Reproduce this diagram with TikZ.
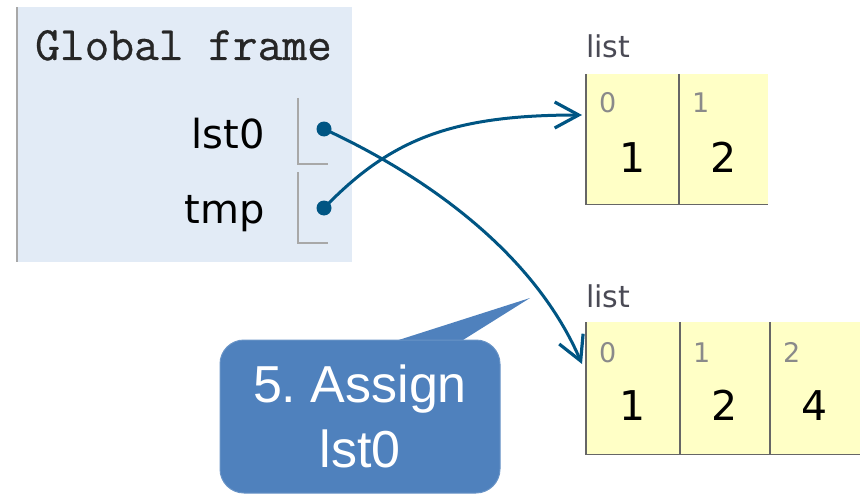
\documentclass[tikz,border=0pt]{standalone}
\usepackage{fontspec}
\setmainfont{Liberation Sans}
\newfontfamily\vfnt{DejaVu Sans}
\newfontfamily\framefnt[FakeBold=0.6]{Latin Modern Mono}
\usetikzlibrary{arrows.meta}
\frenchspacing
\definecolor{framebg}{HTML}{E2EBF6}
\definecolor{framebar}{HTML}{A8A8A8}
\definecolor{cellbg}{HTML}{FFFFC6}
\definecolor{cellline}{HTML}{666666}
\definecolor{ptrcol}{HTML}{005583}
\definecolor{notecol}{HTML}{4F81BD}
\definecolor{idxcol}{HTML}{8A8A8A}
\definecolor{lblcol}{HTML}{4A4A55}
\tikzset{
  cell/.style={rectangle, fill=cellbg, inner sep=0pt, anchor=north west},
  cellborder/.style={draw=cellline, line width=1.8pt},
  idx/.style={anchor=base west, inner sep=0pt, text=idxcol, font=\vfnt\fontsize{27}{27}\selectfont},
  val/.style={anchor=base, inner sep=0pt, text=black, font=\vfnt\fontsize{41}{41}\selectfont},
  lbl/.style={anchor=base west, inner sep=0pt, text=lblcol, font=\vfnt\fontsize{30}{30}\selectfont},
  varname/.style={anchor=base east, inner sep=0pt, text=black, font=\vfnt\fontsize{40}{40}\selectfont},
  slot/.style={draw=framebar, line width=1.3pt},
  ptr/.style={draw=ptrcol, line width=3pt, line join=round,
    -{Straight Barb[length=24pt,width=26pt,line width=3.2pt]}},
  dot/.style={circle, fill=ptrcol, inner sep=0pt, minimum size=15pt},
}
\begin{document}
\begin{tikzpicture}[x=1pt,y=-1pt]
\useasboundingbox (0,0) rectangle (860,495);

% global frame
\fill[framebg] (16,7) rectangle (352,262);
\draw[framebar, line width=2pt] (17,7) -- (17,262);
\node[anchor=base west, inner sep=0pt, text=black!85, font=\framefnt\fontsize{48}{48}\selectfont] (gf) at (35,60) {Global frame};

\node[varname] (v0) at (265,148) {lst0};
\node[varname] (v1) at (265,223) {tmp};
\draw[slot] (298,98) -- (298,164) -- (328,164);
\draw[slot] (298,172) -- (298,243) -- (328,243);
\node[dot] (d0) at (324,129) {};
\node[dot] (d1) at (324,208) {};

% first list
\node[lbl] (l1) at (586,58) {list};
\node[cell, minimum width=93pt, minimum height=130pt] (a0) at (586,74) {};
\node[cell, minimum width=89pt, minimum height=130pt] (a1) at (679,74) {};
\draw[cellborder] (a0.north west) -- (a0.south west) -- (a1.south east);
\draw[cellborder] (a1.north west) -- (a1.south west);
\node[idx] at (599,112) {0};
\node[idx] at (692,112) {1};
\node[val] at (632.5,172) {1};
\node[val] at (723.5,172) {2};

% second list
\node[lbl] (l2) at (586,307) {list};
\node[cell, minimum width=94pt, minimum height=132pt] (b0) at (586,322) {};
\node[cell, minimum width=90pt, minimum height=132pt] (b1) at (680,322) {};
\node[cell, minimum width=90pt, minimum height=132pt] (b2) at (770,322) {};
\draw[cellborder] (b0.north west) -- (b0.south west) -- (b2.south east);
\draw[cellborder] (b1.north west) -- (b1.south west);
\draw[cellborder] (b2.north west) -- (b2.south west);
\node[idx] at (599,362) {0};
\node[idx] at (693,362) {1};
\node[idx] at (783,362) {2};
\node[val] at (633,420) {1};
\node[val] at (725,420) {2};
\node[val] at (815,420) {4};

% references
\coordinate (t0) at (582,364);
\coordinate (t1) at (582,115);
\draw[ptr] (d0.center) .. controls (430,178) and (535,255) .. (t0);
\draw[ptr] (d1.center) .. controls (390,140) and (450,115) .. (t1);

% callout
\coordinate (tip) at (530,298);
\fill[notecol] (383,345) -- (tip) -- (455,345) -- cycle;
\node[rectangle, rounded corners=24pt, fill=notecol, draw=notecol!85!white, line width=1pt,
      minimum width=280pt, minimum height=153pt, text=white, align=center,
      font=\fontsize{52}{65}\selectfont] (note) at (360,416.5) {5. Assign\\lst0};
\end{tikzpicture}
\end{document}
